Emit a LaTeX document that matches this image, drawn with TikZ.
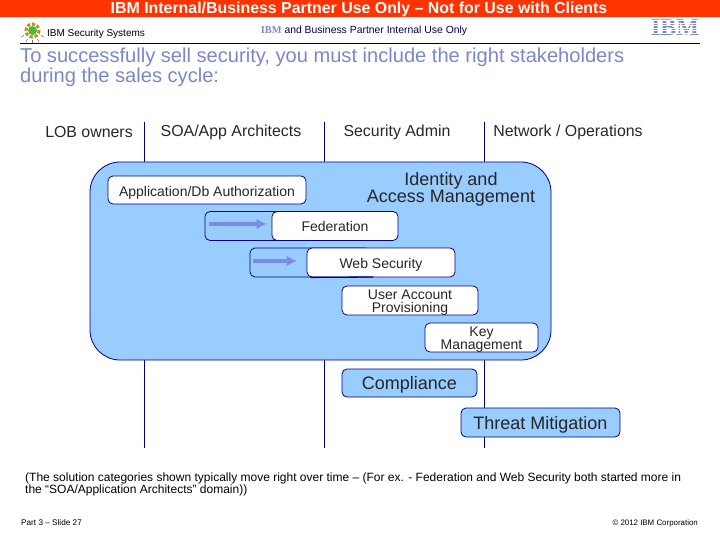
\documentclass[tikz,border=0pt]{standalone}
\usepackage{fontspec}
\setmainfont{Liberation Sans}
\newfontfamily\logofont{Liberation Serif}
\usepackage{xcolor}
\usepackage{tikz}
\usetikzlibrary{arrows.meta}
\usetikzlibrary{positioning}
\definecolor{barred}{HTML}{FF3300}
\definecolor{titleblue}{HTML}{7B88C8}
\definecolor{panelblue}{HTML}{99CCFF}
\definecolor{edgeblue}{HTML}{000080}
\definecolor{arrowblue}{HTML}{7B8CE6}
\tikzset{>=latex}
\tikzstyle{txt} = [draw = none, inner sep = 0, align = left]
\tikzstyle{head} = [draw = none, inner sep = 0, font = \fontsize{15.9}{16}\selectfont, text = black!85]
\tikzstyle{sline} = [-, draw = edgeblue, line width = .9pt]
\tikzstyle{cat} = [rectangle, rounded corners = 5, draw = edgeblue, line width = .8pt, inner sep = 0, align = center, text = black!85]
\tikzstyle{whitecat} = [cat, fill = white, font = \fontsize{14}{13}\selectfont]
\tikzstyle{bluecat} = [cat, fill = panelblue, font = \fontsize{18}{18}\selectfont, text height = 17, text depth = 4]
\tikzstyle{move} = [-{Latex[length = 10, width = 11]}, draw = arrowblue, line width = 4pt]
\begin{document}
\begin{tikzpicture}[x = 1pt, y = -1pt]
\useasboundingbox (0,0) rectangle (720,540);
% header
\fill [barred] (0,0) rectangle (720,17);
\node [txt, text = white, font = \bfseries\fontsize{15.9}{16}\selectfont] (banner) at (359,9.5) {IBM Internal/Business Partner Use Only -- Not for Use with Clients};
\foreach \a in {30,60,...,150} \draw [black!55, line width = .6pt] (32.5,30.5) ++(\a:10) -- ++(\a:3);
\draw [orange!60!yellow!80!black, line width = 3pt, dotted] (32.5,30.5) circle (6.5);
\fill [green!45!gray] (32.5,30.5) circle (4.5);
\node [txt, font = \fontsize{10}{10}\selectfont] (unit) at (96,33.5) {IBM Security Systems};
\node [txt, font = \fontsize{10.4}{10}\selectfont, text = black!65!blue] (internal) at (364,30.5) {{\logofont\bfseries\textcolor{titleblue}{IBM}} and Business Partner Internal Use Only};
\node [txt, font = \logofont\bfseries\fontsize{24}{24}\selectfont, text = titleblue] (logo) at (675,28) {IBM};
\foreach \y in {20.5,23,25.5,28,30.5,33,35.5} \draw [white, line width = .7pt] (650,\y) -- (700,\y);
\coordinate (ruleL) at (20,43);
\coordinate (ruleR) at (700,43);
\draw [black, line width = .8pt] (ruleL) -- (ruleR);
\node [txt, anchor = north west, font = \fontsize{20.1}{20}\selectfont, text = titleblue] (title) at (20,47.5) {To successfully sell security, you must include the right stakeholders\\during the sales cycle:};
% columns
\node [head] (lob) at (89,132.5) {LOB owners};
\node [head] (soa) at (231,132.5) {SOA/App Architects};
\node [head] (sec) at (397,132.5) {Security Admin};
\node [head] (net) at (568,132.5) {Network / Operations};
\foreach \x/\n in {144/a, 324/b, 484/c} {
  \coordinate (top\n) at (\x,122);
  \coordinate (bot\n) at (\x,448);
  \draw [sline] (top\n) -- (bot\n);
}
% identity and access management
\node [rectangle, rounded corners = 30, draw = edgeblue, fill = panelblue, line width = .8pt, minimum width = 461, minimum height = 198, inner sep = 0] (panel) at (320.5,261) {};
\node [txt, align = center, font = \fontsize{18}{16}\selectfont, text = black!85] (iam) at (451,189.5) {Identity and\\Access Management};
\node [whitecat, minimum width = 198, minimum height = 28, text height = 13, text depth = 0] (auth) at (207,190) {Application/Db Authorization};
\node [cat, fill = panelblue, minimum width = 130, minimum height = 29] (fedback) at (270,226) {};
\node [whitecat, minimum width = 126, minimum height = 29] (fed) at (335,226) {Federation};
\coordinate (fedstart) at (209,224);
\draw [move, shorten >= 5] (fedstart) -- (fed.west |- fedstart);
\node [cat, fill = panelblue, minimum width = 120, minimum height = 29] (webback) at (310,262.5) {};
\node [whitecat, minimum width = 148, minimum height = 29, text height = 12, text depth = 0] (web) at (381,262.5) {Web Security};
\coordinate (webstart) at (253,261);
\coordinate (webmark) at (373,277);
\draw [move, shorten >= 10] (webstart) -- (web.west |- webstart);
\draw [edgeblue, line width = 1.3pt] (web.south west) ++(4,0) -- (webmark);
\node [whitecat, minimum width = 136, minimum height = 29, text height = 23, text depth = 0] (user) at (410,300.5) {User Account\\Provisioning};
\node [whitecat, minimum width = 113, minimum height = 29, text height = 24, text depth = 0] (key) at (481.5,337.5) {Key\\Management};
\node [bluecat, minimum width = 135, minimum height = 28] (comp) at (409.5,383) {Compliance};
\node [bluecat, minimum width = 159, minimum height = 29] (threat) at (540.5,422.5) {Threat Mitigation};
% footer
\node [txt, anchor = north west, font = \fontsize{12}{12}\selectfont] (note) at (25,473) {(The solution categories shown typically move right over time -- (For ex. - Federation and Web Security both started more in\\the ``SOA/Application Architects'' domain))};
\node [txt, anchor = west, font = \fontsize{8.2}{8}\selectfont] (slide) at (21,523) {Part 3 -- Slide 27};
\node [txt, anchor = east, font = \fontsize{7.9}{8}\selectfont] (copy) at (698,523) {© 2012 IBM Corporation};
\end{tikzpicture}
\end{document}
